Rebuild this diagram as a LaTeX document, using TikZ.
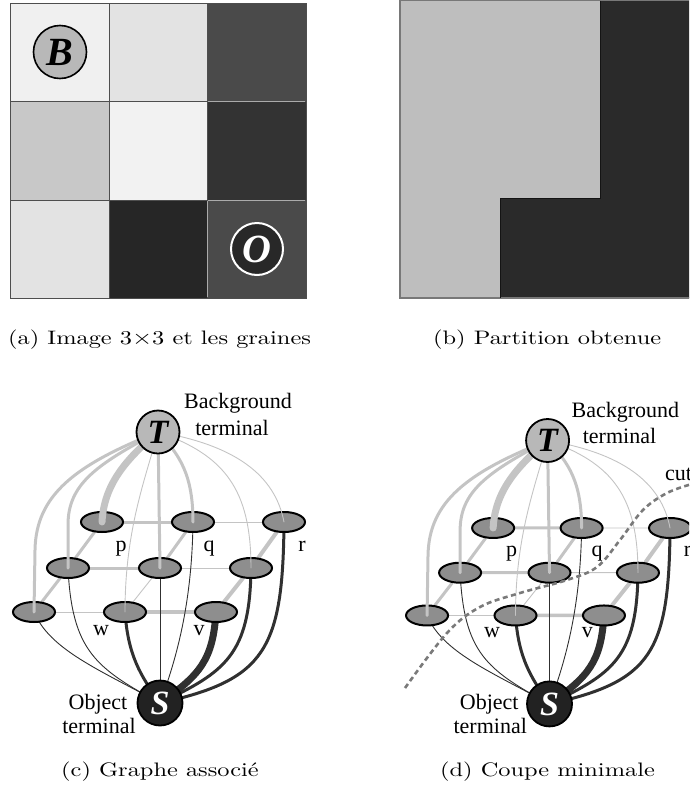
\documentclass[tikz,border=0pt]{standalone}
\usepackage{fontspec}
\usepackage{graphicx}
\newfontfamily\lbl{Liberation Serif}
\newfontfamily\capfont{lmroman10-regular.otf}
\usetikzlibrary{shapes.geometric}
\pgfdeclarelayer{bg}
\pgfdeclarelayer{fg}
\pgfdeclarelayer{top}
\pgfsetlayers{bg,main,fg,top}
\definecolor{lightedge}{HTML}{C4C4C4}
\definecolor{darkedge}{HTML}{303030}
\definecolor{nodefill}{HTML}{8E8E8E}
\definecolor{tfill}{HTML}{B8B8B8}
\definecolor{sfill}{HTML}{222222}
\definecolor{cutcol}{HTML}{7A7A7A}
\definecolor{cellline}{HTML}{4E4E4E}
\definecolor{celllight}{HTML}{ABABAB}
\tikzset{
  ell/.style={ellipse, draw=black, line width=2pt, fill=nodefill, minimum width=42pt, minimum height=20pt, inner sep=0pt},
  tnode/.style={circle, draw=black, line width=1.8pt, fill=tfill, minimum size=43pt, inner sep=0pt, font=\lbl\bfseries\itshape\fontsize{34}{34}\selectfont},
  snode/.style={circle, draw=black, line width=1.8pt, fill=sfill, text=white, minimum size=45pt, inner sep=0pt, font=\lbl\bfseries\itshape\fontsize{34}{34}\selectfont},
  lab/.style={font=\lbl\fontsize{22}{24}\selectfont, inner sep=0pt, anchor=base},
  capstyle/.style={font=\capfont\fontsize{19.5}{22}\selectfont, inner sep=0pt, anchor=base west},
  tl/.style={draw=lightedge, line cap=round},
  dl/.style={draw=darkedge, line cap=round},
  thinw/.style={line width=0.9pt},
  medw/.style={line width=3pt},
  bigw/.style={line width=7pt},
  cellstyle/.style={draw=cellline, line width=1pt},
}

\newcommand\drawgraph[1]{%
  \node[ell] (#1p) at (102,522) {};
  \node[ell] (#1q) at (193,522) {};
  \node[ell] (#1r) at (284,522) {};
  \node[ell] (#1m1) at (68,568) {};
  \node[ell] (#1m2) at (160,568) {};
  \node[ell] (#1m3) at (251,568) {};
  \node[ell] (#1b1) at (34,612) {};
  \node[ell] (#1w) at (125,612) {};
  \node[ell] (#1v) at (216,612) {};
  \begin{pgfonlayer}{top}
    \node[tnode] (#1T) at (158,432) {T};
    \node[snode] (#1S) at (160,703) {S};
  \end{pgfonlayer}
  \node[lab] (#1lp) at (121,551) {p};
  \node[lab] (#1lq) at (209,551) {q};
  \node[lab] (#1lr) at (302,551) {r};
  \node[lab] (#1lw) at (101,635) {w};
  \node[lab] (#1lv) at (199,635) {v};
  \node[lab] (#1bg1) at (238,408) {Background};
  \node[lab] (#1bg2) at (232,435) {terminal};
  \node[lab] (#1ob1) at (98,709) {Object};
  \node[lab] (#1ob2) at (99,733) {terminal};
  \begin{pgfonlayer}{bg}
    % n-links
    \draw[tl, medw] (#1p) -- (#1q);
    \draw[tl, thinw] (#1q) -- (#1r);
    \draw[tl, medw] (#1m1) -- (#1m2);
    \draw[tl, thinw] (#1m2) -- (#1m3);
    \draw[tl, thinw] (#1b1) -- (#1w);
    \draw[tl, line width=3.5pt] (#1w) -- (#1v);
    \draw[tl, medw] (#1p) -- (#1m1);
    \draw[tl, medw] (#1m1) -- (#1b1);
    \draw[tl, medw] (#1q) -- (#1m2);
    \draw[tl, thinw] (#1m2) -- (#1w);
    \draw[tl, line width=4pt] (#1r) -- (#1m3);
    \draw[tl, line width=4pt] (#1m3) -- (#1v);
    % S-links
    \draw[dl, thinw] (#1b1.center) .. controls (50,650) and (100,670) .. (#1S.center);
    \draw[dl, thinw] (#1m1.center) .. controls (72,650) and (95,668) .. (#1S.center);
    \draw[dl, medw] (#1w.center) .. controls (128,655) and (140,675) .. (#1S.center);
    \draw[dl, thinw] (#1m2.center) -- (#1S.center);
    \draw[dl, thinw] (#1q.center) .. controls (192,600) and (178,655) .. (#1S.center);
    \draw[dl, bigw] (#1v.center) .. controls (213,660) and (200,675) .. (#1S.center);
    \draw[dl, medw] (#1m3.center) .. controls (250,655) and (225,672) .. (#1S.center);
    \draw[dl, medw] (#1r.center) .. controls (283,650) and (265,680) .. (#1S.center);
  \end{pgfonlayer}
  \begin{pgfonlayer}{fg}
    % T-links
    \draw[tl, medw] (#1T.center) .. controls (75,465) and (36,495) .. (35,550) -- (#1b1.center);
    \draw[tl, medw] (#1T.center) .. controls (95,465) and (68,485) .. (68,525) -- (#1m1.center);
    \draw[tl, bigw] (#1T.center) .. controls (125,460) and (104,485) .. (#1p.center);
    \draw[tl, medw] (#1T.center) -- (#1m2.center);
    \draw[tl, medw] (#1T.center) .. controls (180,455) and (193,475) .. (#1q.center);
    \draw[tl, thinw] (#1T.center) .. controls (145,480) and (125,530) .. (#1w.center);
    \draw[tl, thinw] (#1T.center) .. controls (225,455) and (251,490) .. (#1m3.center);
    \draw[tl, thinw] (#1T.center) .. controls (235,445) and (275,475) .. (#1r.center);
  \end{pgfonlayer}
}

\begin{document}
\begin{tikzpicture}[x=1pt, y=-1pt]
\useasboundingbox (0,0) rectangle (689,793);
\clip (0,0) rectangle (689,793);

% ---------- panel (a)
\fill[fill={rgb,255:red,240;green,240;blue,240}] (10,3) rectangle (109,101);
\fill[fill={rgb,255:red,227;green,227;blue,227}] (109,3) rectangle (207,101);
\fill[fill={rgb,255:red,74;green,74;blue,74}] (207,3) rectangle (306,101);
\fill[fill={rgb,255:red,200;green,200;blue,200}] (10,101) rectangle (109,200);
\fill[fill={rgb,255:red,242;green,242;blue,242}] (109,101) rectangle (207,200);
\fill[fill={rgb,255:red,51;green,51;blue,51}] (207,101) rectangle (306,200);
\fill[fill={rgb,255:red,227;green,227;blue,227}] (10,200) rectangle (109,298);
\fill[fill={rgb,255:red,38;green,38;blue,38}] (109,200) rectangle (207,298);
\fill[fill={rgb,255:red,74;green,74;blue,74}] (207,200) rectangle (306,298);
\draw[cellstyle] (10,3) rectangle (306,298);
\draw[cellstyle] (109,3) -- (109,298);
\draw[cellstyle] (207,3) -- (207,298);
\draw[cellstyle] (10,101) -- (306,101);
\draw[cellstyle] (10,200) -- (306,200);
\draw[draw=celllight, line width=1pt] (208,101) -- (305,101);
\draw[draw=celllight, line width=1pt] (208,200) -- (305,200);
\draw[draw=celllight, line width=1pt] (207,201) -- (207,297);
\node[circle, draw=black, line width=1.6pt, fill=tfill, minimum size=53pt, inner sep=0pt,
      font=\lbl\bfseries\itshape\fontsize{40}{40}\selectfont] (B) at (60,52) {B};
\node[circle, draw=white, line width=2pt, fill={rgb,255:red,40;green,40;blue,40}, text=white, minimum size=52pt, inner sep=0pt,
      font=\lbl\bfseries\itshape\fontsize{40}{40}\selectfont] (O) at (257,249) {O};

% ---------- panel (b)
\fill[fill={rgb,255:red,190;green,190;blue,190}] (400,0.5) -- (600,0.5) -- (600,198) -- (500,198) -- (500,298) -- (400,298) -- cycle;
\fill[fill={rgb,255:red,42;green,42;blue,42}] (600,0.5) -- (700,0.5) -- (700,298) -- (500,298) -- (500,198) -- (600,198) -- cycle;
\draw[draw={rgb,255:red,120;green,120;blue,120}, line width=1.2pt] (700,0.5) -- (400,0.5) -- (400,298) -- (700,298);
\draw[draw={rgb,255:red,20;green,20;blue,20}, line width=1pt] (600,0.5) -- (600,198) -- (500,198) -- (500,298);

% ---------- captions
\node[capstyle] (capa) at (8,344) {\scalebox{1.25}[1]{(a) Image 3$\times$3 et les graines}};
\node[capstyle] (capb) at (433,344) {\scalebox{1.25}[1]{(b) Partition obtenue}};
\node[capstyle] (capc) at (61,776) {\scalebox{1.25}[1]{(c) Graphe associé}};
\node[capstyle] (capd) at (440,776) {\scalebox{1.25}[1]{(d) Coupe minimale}};

% ---------- panel (c)
\drawgraph{c}

% ---------- panel (d)
\begin{scope}[shift={(394,20.6)}, scale=0.972]
\drawgraph{d}
\end{scope}
\begin{pgfonlayer}{top}
\draw[draw=cutcol, line width=2.6pt, dash pattern=on 5pt off 3.5pt]
  plot[smooth, tension=0.6] coordinates {(405,688) (447,633) (480,607) (520,593) (567,580) (597,567) (620,540) (643,510) (667,493) (692,484)};
\end{pgfonlayer}
\node[lab, anchor=base west] (cutlab) at (665,480.5) {cut};
\end{tikzpicture}
\end{document}
